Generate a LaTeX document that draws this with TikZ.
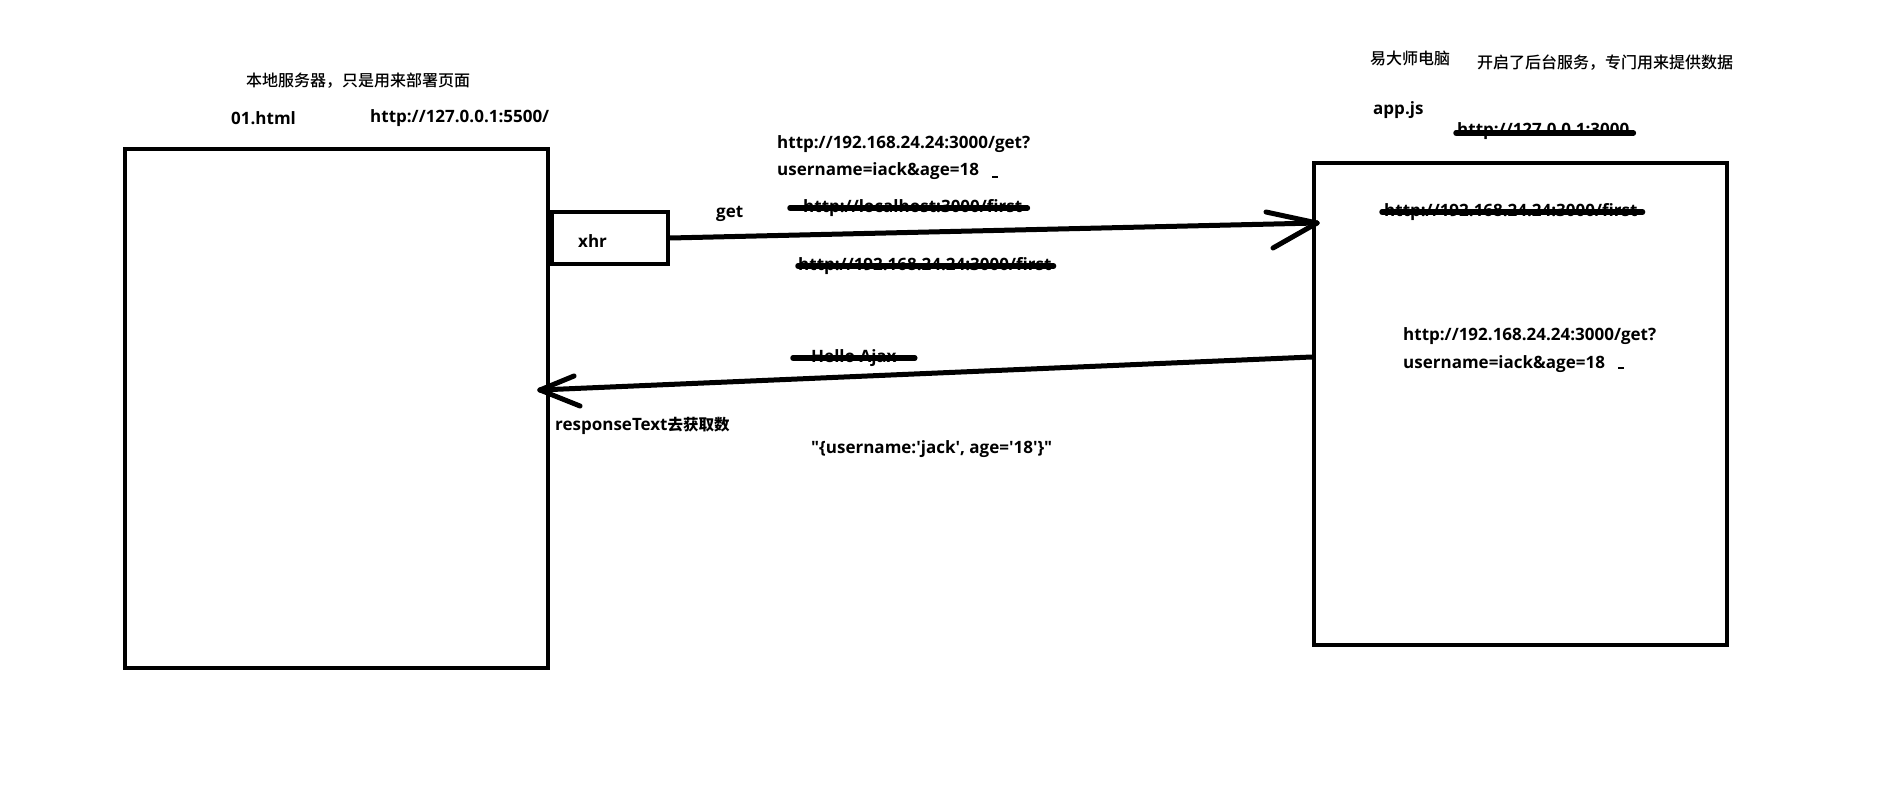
\documentclass[tikz,border=0pt]{standalone}
\usepackage{fontspec}
\setmainfont{Open Sans}[Ligatures=TeXOff]
\newfontfamily\zhfont{Noto Sans CJK SC Medium}
\newfontfamily\zhbold{Noto Sans CJK SC Bold}
\newcommand\sq{\char"0027\relax}
\newcommand\dq{\char"0022\relax}
\usetikzlibrary{calc}
\tikzset{
  frame/.style={draw, line width=4.5pt, inner sep=0pt, fill=none},
  lbl/.style={anchor=west, inner sep=0pt, font=\bfseries\fontsize{17}{20}\selectfont},
  zh/.style={anchor=west, inner sep=0pt, font=\zhfont\fontsize{16}{19}\selectfont},
  strike/.style={line width=5.5pt, line cap=round},
  arr/.style={line width=5pt, line cap=round, line join=round},
  tick/.style={line width=1.5pt},
}
\begin{document}
\begin{tikzpicture}[x=1pt,y=-1pt]
\useasboundingbox[fill=white] (0,0) rectangle (1904,794);

% boxes
\node[frame, minimum width=423pt, minimum height=519pt] (lbox) at (336.5,408.5) {};
\node[frame, minimum width=413pt, minimum height=482pt] (rbox) at (1520.5,404) {};
\node[frame, minimum width=116pt, minimum height=52pt] (xhr) at (610,238) {};
\node[lbl] (xhrt) at (578,241) {xhr};

% left texts
\node[zh] (t1) at (246,81) {本地服务器，只是用来部署页面};
\node[lbl] (t2) at (231,118) {01.html};
\node[lbl] (t3) at (370,118) {http://127.0.0.1:5500/};

% right texts
\node[zh] (t4) at (1370,58) {易大师电脑};
\node[zh] (t5) at (1477,63) {开启了后台服务，专门用来提供数据};
\node[lbl] (t6) at (1373,110) {app.js};
\node[lbl] (t7) at (1457,131) {http://127.0.0.1:3000};
\draw[strike] (t7.west) ++(-1,2) -- ($(t7.east)+(4,2)$);
\node[lbl] (t8) at (1384,212) {http://192.168.24.24:3000/first};
\draw[strike] (t8.west) ++(-2,0) -- ($(t8.east)+(5,0)$);
\node[lbl] (t9) at (1403,336) {http://192.168.24.24:3000/get?};
\node[lbl] (t10) at (1403,364) {username=iack\&age=18};
\coordinate (d2) at (1618,368);
\draw[tick] (d2) -- ++(6,0);

% request labels
\node[lbl] (t11) at (777,144) {http://192.168.24.24:3000/get?};
\node[lbl] (t12) at (777,171) {username=iack\&age=18};
\coordinate (d1) at (992,177);
\draw[tick] (d1) -- ++(6,0);
\node[lbl] (get) at (716,214) {get};
\node[lbl] (t13) at (803,208) {http://localhost:3000/first};
\draw[strike] ($(t13.west)+(-13,0)$) -- ($(t13.east)+(5,0)$);
\node[lbl] (t14) at (798,266) {http://192.168.24.24:3000/first};
\draw[strike] ($(t14.west)+(0,0)$) -- ($(t14.east)+(2,0)$);

% request arrow
\coordinate (reqEnd) at (1317,223);
\draw[arr] (xhr.east) -- (reqEnd);
\draw[arr] (reqEnd) -- ++(-51,-11);
\draw[arr] (reqEnd) -- ++(-44,25);

% response arrow
\coordinate (resStart) at (rbox.west |- 0,357);
\coordinate (resEnd) at (540,390);
\draw[arr] (resStart) -- (resEnd);
\draw[arr] (resEnd) -- ++(34,-14);
\draw[arr] (resEnd) -- ++(40,16);

% response labels
\node[lbl] (t15) at (811,358) {Hello Ajax};
\draw[strike] ($(t15.west)+(-18,0)$) -- ($(t15.east)+(18,0)$);
\node[lbl] (t16) at (555,426) {responseText{\zhbold\fontsize{15.5}{19}\selectfont 去获取数}};
\node[lbl] (t17) at (811,449) {\dq\{username:\sq jack\sq, age=\sq 18\sq\}\dq};
\end{tikzpicture}
\end{document}
